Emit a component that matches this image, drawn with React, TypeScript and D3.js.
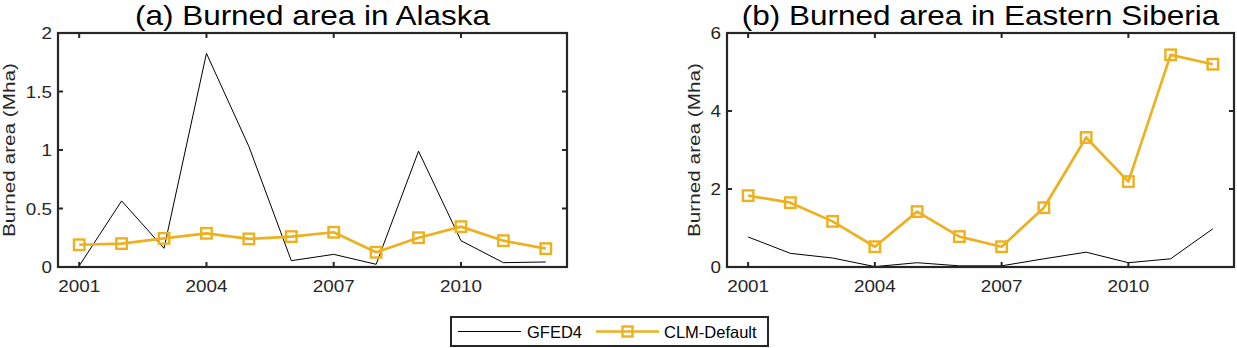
import React from "react";
import * as d3 from "d3";

const years = [2001, 2002, 2003, 2004, 2005, 2006, 2007, 2008, 2009, 2010, 2011, 2012];
const alaskaGFED4 = [0.01, 0.565, 0.16, 1.826, 1.03, 0.054, 0.108, 0.023, 0.99, 0.225, 0.037, 0.043];
const alaskaCLM = [0.19, 0.2, 0.245, 0.288, 0.24, 0.26, 0.297, 0.126, 0.25, 0.345, 0.225, 0.157];
const siberiaGFED4 = [0.77, 0.35, 0.23, 0.01, 0.11, 0.03, 0.03, 0.21, 0.38, 0.11, 0.21, 0.98];
const siberiaCLM = [1.83, 1.65, 1.17, 0.52, 1.42, 0.78, 0.52, 1.52, 3.32, 2.19, 5.44, 5.2];
const xTicks = [2001, 2004, 2007, 2010];
const alaskaYTicks = [0, 0.5, 1, 1.5, 2];
const siberiaYTicks = [0, 2, 4, 6];
const titles = ["(a) Burned area in Alaska", "(b) Burned area in Eastern Siberia"];
const yLabel = "Burned area (Mha)";
const legendLabels = ["GFED4", "CLM-Default"];

const YELLOW = "#EDB120";
const AX = "#262626";
const FONT = "Arial, 'Liberation Sans', Helvetica, sans-serif";

type PanelProps = {
  left: number; right: number; top: number; bottom: number;
  yMax: number; yTicks: number[]; gfed: number[]; clm: number[]; title: string;
  ylabX: number;
};

function Panel(p: PanelProps) {
  const x = d3.scaleLinear().domain([2000.5, 2012.5]).range([p.left, p.right]);
  const y = d3.scaleLinear().domain([0, p.yMax]).range([p.bottom, p.top]);
  const line = d3.line<number>().x((_, i) => x(years[i])).y((d) => y(d));
  const tl = 5;
  const ms = 10.5;
  const tickSx = 1.11;
  return (
    <g>
      <text transform={`translate(${(p.left + p.right) / 2},24.5) scale(1.145,1)`} textAnchor="middle" fontSize={27.5} fontFamily={FONT} fill="#000">{p.title}</text>
      <path d={line(p.gfed) || ""} fill="none" stroke="#000" strokeWidth={1} />
      <path d={line(p.clm) || ""} fill="none" stroke={YELLOW} strokeWidth={2.7} strokeLinejoin="round" />
      {p.clm.map((v, i) => (
        <rect key={i} x={x(years[i]) - ms / 2} y={y(v) - ms / 2} width={ms} height={ms} fill="none" stroke={YELLOW} strokeWidth={2.4} />
      ))}
      {xTicks.map((t) => (
        <g key={t}>
          <line x1={x(t)} x2={x(t)} y1={p.bottom} y2={p.bottom - tl} stroke={AX} strokeWidth={2} />
          <line x1={x(t)} x2={x(t)} y1={p.top} y2={p.top + tl} stroke={AX} strokeWidth={2} />
          <text transform={`translate(${x(t)},${p.bottom + 25}) scale(${tickSx},1)`} textAnchor="middle" fontSize={17} fontFamily={FONT} fill={AX}>{t}</text>
        </g>
      ))}
      {p.yTicks.map((t) => (
        <g key={t}>
          <line x1={p.left} x2={p.left + tl} y1={y(t)} y2={y(t)} stroke={AX} strokeWidth={2} />
          <line x1={p.right} x2={p.right - tl} y1={y(t)} y2={y(t)} stroke={AX} strokeWidth={2} />
          <text transform={`translate(${p.left - 6},${y(t) + 6}) scale(${tickSx},1)`} textAnchor="end" fontSize={17} fontFamily={FONT} fill={AX}>{String(t)}</text>
        </g>
      ))}
      <rect x={p.left} y={p.top} width={p.right - p.left} height={p.bottom - p.top} fill="none" stroke={AX} strokeWidth={2.2} />
      <text transform={`translate(${p.ylabX},${(p.top + p.bottom) / 2}) rotate(-90) scale(1.22,1)`} textAnchor="middle" fontSize={17} fontFamily={FONT} fill={AX}>{yLabel}</text>
    </g>
  );
}

export default function App() {
  return (
    <svg width={1237} height={348} style={{ position: "absolute", left: 0, top: 0, background: "#fff" }}>
      <rect width={1237} height={348} fill="#fff" />
      <Panel left={58} right={567} top={33} bottom={267} yMax={2} yTicks={alaskaYTicks} gfed={alaskaGFED4} clm={alaskaCLM} title={titles[0]} ylabX={15} />
      <Panel left={727} right={1234} top={33} bottom={267} yMax={6} yTicks={siberiaYTicks} gfed={siberiaGFED4} clm={siberiaCLM} title={titles[1]} ylabX={700} />
      <g>
        <rect x={451} y={317} width={317} height={29} fill="#fff" stroke={AX} strokeWidth={2} />
        <line x1={458} x2={521} y1={331.5} y2={331.5} stroke="#000" strokeWidth={1} />
        <text x={527} y={337.5} fontSize={16.5} fontFamily={FONT} fill="#000">{legendLabels[0]}</text>
        <line x1={596} x2={659} y1={331.5} y2={331.5} stroke={YELLOW} strokeWidth={2.7} />
        <rect x={627.5 - 5} y={331.5 - 5} width={10} height={10} fill="none" stroke={YELLOW} strokeWidth={2.4} />
        <text x={664} y={337.5} fontSize={16.5} fontFamily={FONT} fill="#000">{legendLabels[1]}</text>
      </g>
    </svg>
  );
}
